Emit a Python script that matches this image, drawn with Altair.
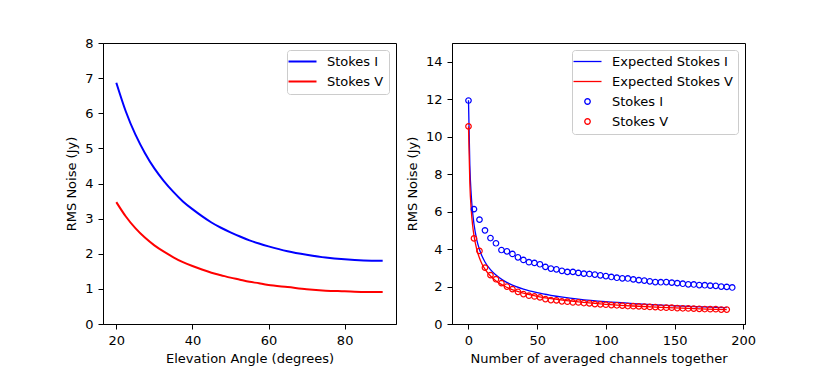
import altair as alt
import pandas as pd
import numpy as np

# ---------------- data ----------------
elevation = [20, 22.5, 25, 27.5, 30, 32.5, 35, 37.5, 40, 42.5, 45, 47.5, 50, 52.5, 55, 57.5,
             60, 65, 70, 75, 80, 85, 90]
elev_stokes_I = [6.87, 6.05, 5.40, 4.87, 4.43, 4.07, 3.76, 3.49, 3.27, 3.07, 2.89, 2.74,
                 2.61, 2.49, 2.38, 2.29, 2.21, 2.07, 1.97, 1.89, 1.84, 1.81, 1.80]
elev_stokes_V = [3.47, 3.06, 2.73, 2.46, 2.24, 2.06, 1.90, 1.76, 1.65, 1.55, 1.46, 1.39,
                 1.32, 1.26, 1.20, 1.16, 1.11, 1.05, 0.99, 0.95, 0.93, 0.91, 0.91]

chan_I_x = list(range(0, 193, 4))
chan_I = [11.93, 6.13, 5.57, 5.00, 4.59, 4.31, 3.95, 3.88, 3.74, 3.56,
          3.42, 3.30, 3.26, 3.19, 3.05, 2.96, 2.92, 2.84, 2.78, 2.78,
          2.73, 2.69, 2.67, 2.64, 2.60, 2.56, 2.51, 2.47, 2.44, 2.43,
          2.38, 2.34, 2.32, 2.28, 2.24, 2.23, 2.24, 2.21, 2.18, 2.15,
          2.12, 2.11, 2.08, 2.07, 2.05, 2.04, 2.00, 1.98, 1.95]
chan_V_x = list(range(0, 189, 4))
chan_V = [10.55, 4.57, 3.90, 3.01, 2.61, 2.39, 2.18, 2.00, 1.86, 1.72,
          1.60, 1.51, 1.47, 1.42, 1.33, 1.28, 1.26, 1.21, 1.19, 1.15,
          1.15, 1.12, 1.10, 1.06, 1.05, 1.03, 1.01, 1.00, 0.98, 0.96,
          0.95, 0.94, 0.93, 0.91, 0.90, 0.88, 0.87, 0.87, 0.85, 0.84,
          0.83, 0.82, 0.81, 0.80, 0.79, 0.79, 0.77, 0.77]

exp_x = [0, 1, 2, 3, 4, 6, 8, 10, 12, 16, 20, 25, 30, 40, 50, 60, 80, 100, 120, 140, 160, 180, 188]
exp_I = [11.94, 8.44, 6.89, 5.97, 5.34, 4.51, 3.98, 3.60, 3.31, 2.90, 2.61, 2.34, 2.14,
         1.86, 1.67, 1.53, 1.33, 1.19, 1.09, 1.01, 0.94, 0.89, 0.87]
exp_V = [10.55, 7.46, 6.09, 5.27, 4.72, 3.99, 3.52, 3.18, 2.93, 2.56, 2.30, 2.07, 1.89,
         1.65, 1.48, 1.35, 1.18, 1.05, 0.96, 0.89, 0.83, 0.78, 0.77]

left_series = ["Stokes I", "Stokes V"]
right_series = ["Expected Stokes I", "Expected Stokes V", "Stokes I", "Stokes V"]

# ---------------- styles ----------------
BLUE = "#0000ff"
RED = "#ff0000"
FONT = "DejaVu Sans"
LINE_PATH = "M-2.8,0L2.8,0"
_ang = np.linspace(0, 2 * np.pi, 17)[:-1]
CIRCLE_PATH = "M" + "L".join(f"{0.55*np.cos(a):.3f},{0.55*np.sin(a):.3f}" for a in _ang) + "Z"

legend_common = dict(
    title=None, orient="top-right", offset=7, symbolSize=100,
    labelOffset=18, symbolOffset=4, padding=5, rowPadding=6,
    strokeColor="#cccccc", fillColor="rgba(255,255,255,0.8)", cornerRadius=3,
    labelFont=FONT, labelFontSize=13, labelColor="black",
)

# ---------------- left panel ----------------
left_df = pd.DataFrame({
    "x": elevation + elevation,
    "y": elev_stokes_I + elev_stokes_V,
    "series": [left_series[0]] * len(elevation) + [left_series[1]] * len(elevation),
})

left = alt.Chart(left_df).mark_line(strokeWidth=2, interpolate="natural").encode(
    x=alt.X("x:Q", scale=alt.Scale(domain=[16.5, 93.5], nice=False, zero=False),
            axis=alt.Axis(values=[20, 40, 60, 80], title="Elevation Angle (degrees)")),
    y=alt.Y("y:Q", scale=alt.Scale(domain=[0, 8], nice=False),
            axis=alt.Axis(values=list(range(0, 9)), title="RMS Noise (Jy)")),
    color=alt.Color("series:N", scale=alt.Scale(domain=left_series, range=[BLUE, RED]),
                    legend=alt.Legend(symbolType=LINE_PATH, symbolStrokeWidth=2, **legend_common)),
).properties(width=293, height=281)

# ---------------- right panel ----------------
exp_df = pd.DataFrame({
    "x": exp_x + exp_x,
    "y": exp_I + exp_V,
    "series": [right_series[0]] * len(exp_x) + [right_series[1]] * len(exp_x),
})
pts_df = pd.DataFrame({
    "x": chan_I_x + chan_V_x,
    "y": chan_I + chan_V,
    "series": [right_series[2]] * len(chan_I_x) + [right_series[3]] * len(chan_V_x),
})

color_scale = alt.Scale(domain=right_series, range=[BLUE, RED, BLUE, RED])
shape_scale = alt.Scale(domain=right_series, range=[LINE_PATH, LINE_PATH, CIRCLE_PATH, CIRCLE_PATH])
right_legend = alt.Legend(symbolStrokeWidth=1.3, symbolFillColor="transparent", **legend_common)

rx = alt.X("x:Q", scale=alt.Scale(domain=[-12, 201.3], nice=False, zero=False),
           axis=alt.Axis(values=[0, 50, 100, 150, 200], title="Number of averaged channels together"))
ry = alt.Y("y:Q", scale=alt.Scale(domain=[0, 15], nice=False),
           axis=alt.Axis(values=list(range(0, 15, 2)), title="RMS Noise (Jy)"))

lines = alt.Chart(exp_df).mark_line(strokeWidth=1.3, interpolate="monotone").encode(
    x=rx, y=ry,
    color=alt.Color("series:N", scale=color_scale, legend=right_legend),
)
points = alt.Chart(pts_df).mark_point(filled=False, size=100, strokeWidth=1.2, opacity=1).encode(
    x=rx, y=ry,
    color=alt.Color("series:N", scale=color_scale, legend=right_legend),
    shape=alt.Shape("series:N", scale=shape_scale, legend=right_legend),
)
right = alt.layer(lines, points).properties(width=293, height=281)

chart = alt.hconcat(left, right, spacing=8).resolve_scale(
    color="independent", shape="independent"
).resolve_legend(
    color="independent", shape="independent"
).configure(
    font=FONT,
    padding={"left": 57, "top": 28, "right": 5, "bottom": 0},
).configure_axis(
    labelFont=FONT, labelFontSize=13, labelColor="black",
    titleFont=FONT, titleFontSize=13, titleFontWeight="normal", titleColor="black",
    domainColor="black", tickColor="black", tickSize=5, labelPadding=5,
    titlePadding=6, grid=False,
).configure_axisX(titlePadding=5).configure_view(stroke="black", strokeWidth=1)

chart.save("out.html", embed_options={"renderer": "svg", "actions": False})
